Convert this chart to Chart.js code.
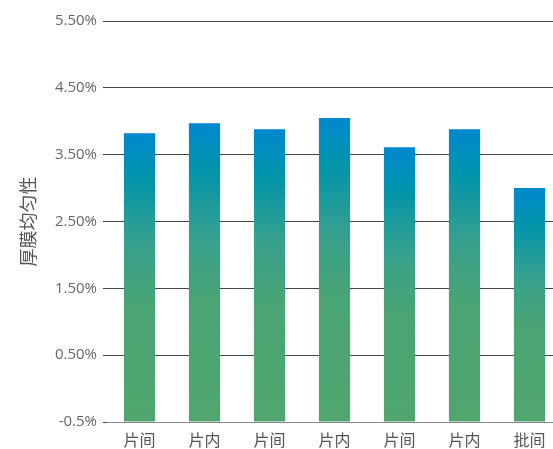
<!DOCTYPE html>
<html>
<head>
<meta charset="utf-8">
<script src="https://cdn.jsdelivr.net/npm/chart.js@4"></script>
<style>
    html, body { margin: 0; padding: 0; background: #fff; overflow: hidden; }
    /* plot runs a little past the right edge of the window */
    #wrap { width: 562px; height: 449px; }
</style>
</head>
<body>
<div id="wrap"><canvas id="uniformityChart"></canvas></div>
<script>
/* Film thickness uniformity per measurement */
let categories = ['片间', '片内', '片间', '片内', '片间', '片内', '批间'];
let uniformity = [3.82, 3.97, 3.88, 4.05, 3.61, 3.88, 3.00];
let tickLabels = ['-0.5%', '0.50%', '1.50%', '2.50%', '3.50%', '4.50%', '5.50%'];
let axisMin = -0.5;
let axisMax = 5.5;

// each bar gets its own green-to-blue gradient, from base to top
function BarGradient(context) {
    let chart = context.chart;
    if (!chart.chartArea || context.parsed == null) {
        return '#4fa56e';
    }
    let yScale = chart.scales.y;
    let top = yScale.getPixelForValue(context.parsed.y);
    let bottom = yScale.getPixelForValue(axisMin);
    let grad = chart.ctx.createLinearGradient(0, bottom, 0, top);
    grad.addColorStop(0, '#50a66d');
    grad.addColorStop(0.4, '#4aa473');
    grad.addColorStop(0.62, '#36a08e');
    grad.addColorStop(0.85, '#0094ab');
    grad.addColorStop(1, '#0088d0');
    return grad;
}

let ctx = document.getElementById('uniformityChart').getContext('2d');

let graphic = new Chart(ctx, {
    type: 'bar',
    data: {
        labels: categories,
        datasets: [
            {
                label: '厚膜均匀性',
                data: uniformity,
                base: axisMin,
                backgroundColor: BarGradient,
                borderWidth: 0,
                categoryPercentage: 1,
                barPercentage: 0.48
            }
        ]
    },
    options: {
        responsive: true,
        maintainAspectRatio: false,
        animation: false,
        layout: {
            padding: { top: 21, right: 0, bottom: 0, left: 0 }
        },
        plugins: {
            legend: { display: false },
            tooltip: { enabled: false }
        },
        scales: {
            x: {
                grid: { display: false },
                border: { display: true, color: '#8a8a8a', width: 1 },
                ticks: {
                    color: '#555',
                    padding: 0,
                    font: { family: 'Noto Sans CJK SC', size: 16 }
                },
                afterFit: function (scale) {
                    scale.height = 27;
                }
            },
            y: {
                min: axisMin,
                max: axisMax,
                grid: {
                    color: '#444',
                    lineWidth: 1,
                    drawTicks: true,
                    tickLength: 4
                },
                border: { display: false },
                ticks: {
                    stepSize: 1,
                    color: '#666',
                    padding: 6,
                    font: { family: 'Open Sans', size: 15 },
                    callback: function (value, index) {
                        return tickLabels[index];
                    }
                },
                title: {
                    display: true,
                    text: '厚膜均匀性',
                    color: '#555',
                    padding: { top: 17, bottom: 0 },
                    font: { family: 'Noto Sans CJK SC', size: 18 }
                },
                afterFit: function (scale) {
                    scale.width = 107;
                }
            }
        }
    }
});
</script>
</body>
</html>
